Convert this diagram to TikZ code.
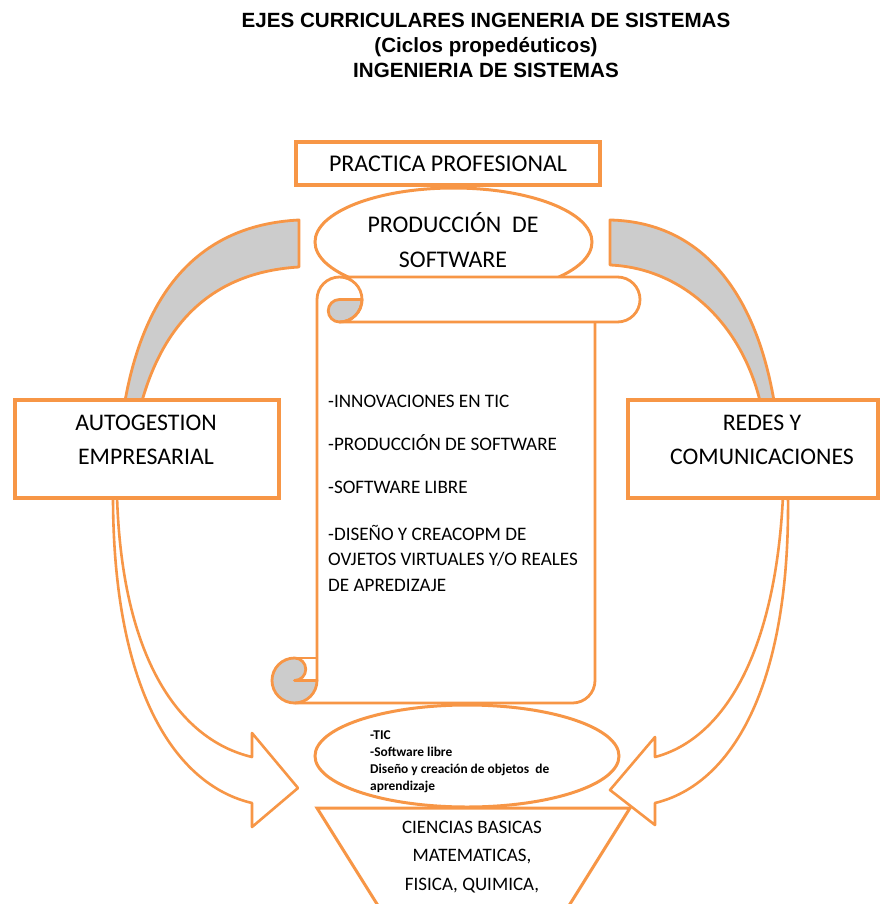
\documentclass[tikz,border=0pt]{standalone}
\usepackage{fontspec}
\setmainfont{Carlito}
\newfontfamily\titlefont{Liberation Sans}
\usetikzlibrary{shapes.geometric}
\definecolor{org}{HTML}{F79646}
\definecolor{band}{HTML}{CCCCCC}
\begin{document}
\begin{tikzpicture}[x=1pt,y=-1pt,
  obox/.style={draw=org, line width=3.5pt, fill=white, inner sep=0pt},
  oline/.style={draw=org, line width=2.8pt, line join=round},
  oell/.style={draw=org, line width=3pt, fill=white, ellipse, inner sep=0pt},
  txt/.style={inner sep=0pt, text=black},
]
\clip (0,0) rectangle (887,904);
\fill[white] (0,0) rectangle (887,904);

% title
\node[txt, align=center, font=\titlefont\bfseries\fontsize{20.6}{25}\selectfont] (title) at (486,45)
  {EJES CURRICULARES INGENERIA DE SISTEMAS\\(Ciclos propedéuticos)\\INGENIERIA DE SISTEMAS};

% grey curved bands
\filldraw[oline, fill=band] (125,401) .. controls (145,290) and (200,225) .. (299,220)
  -- (299,267) .. controls (215,272) and (165,320) .. (142,401) -- cycle;
\filldraw[oline, fill=band] (610,220) .. controls (700,222) and (755,290) .. (774,401)
  -- (760,401) .. controls (740,320) and (680,268) .. (610,265) -- cycle;

% curved white arrows
\filldraw[oline, line width=2.6pt, fill=white] (113,496) .. controls (113,690) and (175,785) .. (252,803)
  -- (252,827) -- (298,788) -- (252,733) -- (252,757)
  .. controls (180,740) and (122,660) .. (117,496) -- cycle;
\filldraw[oline, line width=2.6pt, fill=white] (788,496) .. controls (790,690) and (730,785) .. (655,803)
  -- (655,825) -- (610,790) -- (655,737) -- (655,757)
  .. controls (720,740) and (775,660) .. (783,496) -- cycle;

% boxes
\node[obox, minimum width=304, minimum height=43, font=\fontsize{24}{28}\selectfont] (practica) at (448,163.5) {PRACTICA PROFESIONAL};
\node[obox, minimum width=264, minimum height=98] (autog) at (147,449) {};
\node[obox, minimum width=250, minimum height=98] (redes) at (753,449) {};
\node[txt, align=center, font=\fontsize{23.8}{34}\selectfont] (autogtxt) at (146,440) {AUTOGESTION\\EMPRESARIAL};
\node[txt, align=center, font=\fontsize{23.8}{34}\selectfont] (redestxt) at (762,440) {REDES Y\\COMUNICACIONES};

% top ellipse
\node[oell, minimum width=277, minimum height=108] (prod) at (453.5,242) {};
\node[txt, align=center, font=\fontsize{23.9}{35}\selectfont] (prodtxt) at (453,240.5) {PRODUCCIÓN\ \ DE\\SOFTWARE};

% scroll
\fill[white] (317,680.5) -- (317,299.5) arc[start angle=180,end angle=270,radius=22.5]
  -- (617.5,277) arc[start angle=270,end angle=450,radius=22.5] -- (595,322)
  -- (595,680.5) arc[start angle=0,end angle=90,radius=22.5] -- (294.5,703) -- cycle;
\filldraw[oline, fill=band] (339.5,299.5) -- (362,299.5) arc[start angle=0,end angle=90,radius=22.5]
  arc[start angle=90,end angle=270,radius=11.25] -- cycle;
\filldraw[oline, fill=band] (294.5,658) arc[start angle=270,end angle=0,radius=22.5]
  -- (294.5,680.5) arc[start angle=90,end angle=-90,radius=11.25] -- cycle;
\draw[oline] (317,680.5) -- (317,299.5) arc[start angle=180,end angle=270,radius=22.5]
  -- (617.5,277) arc[start angle=270,end angle=450,radius=22.5] -- (339.5,322)
  arc[start angle=90,end angle=-90,radius=22.5];
\draw[oline] (595,322) -- (595,680.5) arc[start angle=0,end angle=90,radius=22.5] -- (294.5,703);
\draw[oline] (294.5,658) -- (317,658);

\node[txt, anchor=west, font=\fontsize{19.1}{25.5}\selectfont] (item1) at (328,401) {-INNOVACIONES EN TIC};
\node[txt, anchor=west, font=\fontsize{19.1}{25.5}\selectfont] (item2) at (328,443) {-PRODUCCIÓN DE SOFTWARE};
\node[txt, anchor=west, font=\fontsize{19.1}{25.5}\selectfont] (item3) at (328,487) {-SOFTWARE LIBRE};
\node[txt, anchor=west, align=left, font=\fontsize{19.1}{25.5}\selectfont] (item4) at (328,558)
  {-DISEÑO Y CREACOPM DE\\OVJETOS VIRTUALES Y/O REALES\\DE APREDIZAJE};

% lower ellipse
\node[oell, minimum width=304, minimum height=102] (base) at (467,756) {};
\node[txt, anchor=west, align=left, font=\bfseries\fontsize{13.4}{17}\selectfont] (basetxt) at (370,761.5)
  {-TIC\\-Software libre\\Diseño y creación de objetos\ \ de\\aprendizaje};

% trapezoid
\filldraw[draw=org, line width=3pt, fill=white, line join=miter] (317,808) -- (630,808) -- (545,944) -- (402,944) -- cycle;
\coordinate (trapc) at (472,857);
\node[txt, align=center, font=\fontsize{19}{28.5}\selectfont] (ciencias) at (trapc)
  {CIENCIAS BASICAS\\MATEMATICAS,\\FISICA, QUIMICA,};
\end{tikzpicture}
\end{document}
